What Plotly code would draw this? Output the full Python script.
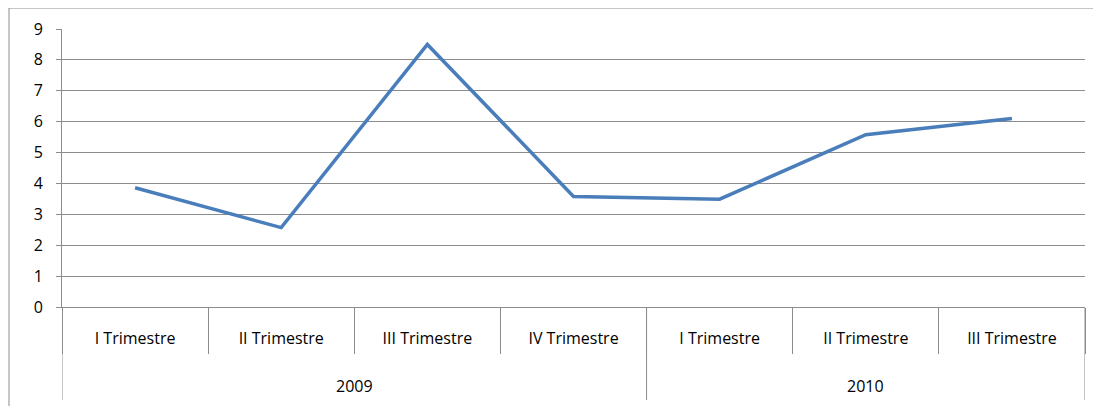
import plotly.graph_objects as go

years = ["2009", "2010"]
year_quarter_counts = [4, 3]
quarters = ["I Trimestre", "II Trimestre", "III Trimestre", "IV Trimestre",
            "I Trimestre", "II Trimestre", "III Trimestre"]
values = [3.86, 2.57, 8.5, 3.58, 3.49, 5.58, 6.1]
y_ticks = [0, 1, 2, 3, 4, 5, 6, 7, 8, 9]

grid = "#8c8c8c"
font = dict(family="Open Sans, Lato, sans-serif", size=16, color="#000000")

xs = list(range(len(quarters)))
boundaries = [i - 0.5 for i in range(len(quarters) + 1)]

fig = go.Figure()
fig.add_trace(go.Scatter(
    x=xs, y=values, mode="lines",
    line=dict(color="#4a7ebb", width=3.5),
    showlegend=False, hoverinfo="skip",
))

shapes = [dict(type="rect", xref="paper", yref="paper",
               x0=-0.0518, x1=1.2, y0=-0.6, y1=1.0755,
               line=dict(color=grid, width=1), layer="below")]
annotations = []
start = 0
divider_pos = [-0.5]
for yr, n in zip(years, year_quarter_counts):
    center = start + (n - 1) / 2
    annotations.append(dict(x=center, xref="x", y=-0.284, yref="paper",
                            text=yr, showarrow=False, font=font,
                            xanchor="center", yanchor="middle"))
    start += n
    divider_pos.append(start - 0.5)
for d in divider_pos:
    shapes.append(dict(type="line", xref="x", yref="paper",
                       x0=d, x1=d, y0=0, y1=-0.335,
                       line=dict(color=grid, width=1)))

fig.update_layout(
    width=1101, height=406,
    margin=dict(l=54, r=24, t=21, b=107),
    paper_bgcolor="white", plot_bgcolor="white",
    font=font,
    xaxis=dict(
        range=[-0.5, len(quarters) - 0.5], automargin=False,
        tickvals=xs, ticktext=quarters, ticks="",
        showgrid=False, showline=True, linecolor=grid, linewidth=1,
        zeroline=False, ticklabelstandoff=17, tickfont=font,
        minor=dict(tickvals=boundaries, ticks="outside", ticklen=46,
                   tickcolor=grid, tickwidth=1, showgrid=False),
    ),
    yaxis=dict(
        range=[0, 9], tickvals=y_ticks, showgrid=True, gridcolor=grid,
        gridwidth=1, zeroline=False, showline=True, linecolor=grid,
        linewidth=1, ticks="outside", ticklen=5, tickcolor=grid,
        ticklabelstandoff=10, tickfont=font, automargin=False,
    ),
    shapes=shapes,
    annotations=annotations,
)

fig.write_html("out.html")
